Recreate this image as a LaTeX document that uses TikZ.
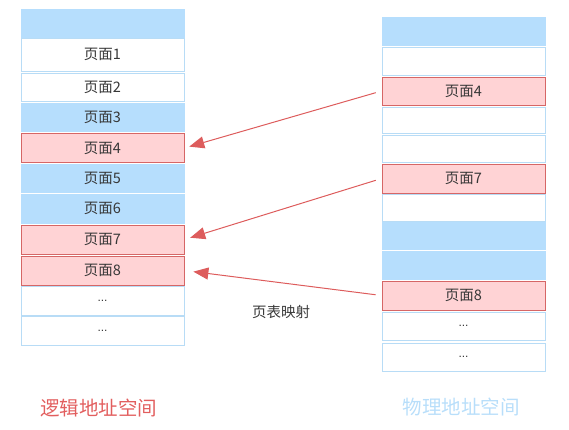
\documentclass[tikz,border=0pt]{standalone}
\usepackage{fontspec}
\setmainfont{Noto Sans CJK SC}
\newfontfamily\latinf{Liberation Sans}
\usetikzlibrary{arrows.meta}
\definecolor{bluefill}{RGB}{182,222,253}
\definecolor{blueline}{RGB}{184,220,246}
\definecolor{redfill}{RGB}{255,211,213}
\definecolor{redline}{RGB}{214,102,102}
\definecolor{arrowred}{RGB}{221,92,92}
\definecolor{txt}{RGB}{55,55,55}
\definecolor{titlered}{RGB}{226,94,94}
\definecolor{titleblue}{RGB}{184,222,250}
\tikzset{
  cell/.style={rectangle, inner sep=0pt, minimum width=163pt, line width=0.9pt,
    text=txt, font=\fontsize{14.5}{16}\selectfont},
  bluebox/.style={cell, draw=none, fill=bluefill, minimum width=164pt},
  whitebox/.style={cell, draw=blueline, fill=white},
  redbox/.style={cell, draw=redline, fill=redfill},
  arr/.style={draw=arrowred, line width=1pt, -{Triangle[length=15pt,width=12pt]}},
}
\begin{document}
\begin{tikzpicture}[x=1pt,y=-1pt]
\useasboundingbox (0,0) rectangle (569,429);
\foreach \n/\t/\b/\s/\l in {
  l0/9/37.5/bluebox/{},
  l1/38.5/71/whitebox/页面1,
  l2/73/101/whitebox/页面2,
  l3/102.5/132/bluebox/页面3,
  l4/133.5/162.5/redbox/页面4,
  l5/163.5/193/bluebox/页面5,
  l6/194/223.5/bluebox/页面6,
  l7/225/254/redbox/页面7,
  l8/256/285/redbox/页面8,
  l9/286.5/315/whitebox/{\latinf\fontsize{12}{14}\selectfont ...},
  l10/316.5/345/whitebox/{\latinf\fontsize{12}{14}\selectfont ...}}
  \node[\s, minimum height={\b-\t}] (\n) at (102.5,{(\t+\b)/2}) {\l};
\foreach \n/\t/\b/\s/\l in {
  r0/16.5/45.5/bluebox/{},
  r1/47/75/whitebox/{},
  r2/77/105/redbox/页面4,
  r3/107/133/whitebox/{},
  r4/135/162/whitebox/{},
  r5/164/193/redbox/页面7,
  r6/194.5/221/whitebox/{},
  r7/221.8/250/bluebox/{},
  r8/251/279.5/bluebox/{},
  r9/281/310/redbox/页面8,
  r10/312/340/whitebox/{\latinf\fontsize{12}{14}\selectfont ...},
  r11/343/371/whitebox/{\latinf\fontsize{12}{14}\selectfont ...}}
  \node[\s, minimum height={\b-\t}] (\n) at (463.5,{(\t+\b)/2}) {\l};
\draw[arr, shorten <=6pt, shorten >=5pt] (r2.west) -- (l4.east);
\draw[arr, shorten <=6pt, shorten >=6pt] (r5.west) -- (l7.east);
\draw[arr, shorten <=6pt, shorten >=9pt] (r9.west) -- (l8.east);
\node[text=txt, font=\fontsize{14.5}{16}\selectfont] (map) at (281,312) {页表映射};
\node[text=titlered, font=\fontsize{19.5}{22}\selectfont] (lt) at (98.5,408) {逻辑地址空间};
\node[text=titleblue, font=\fontsize{19.5}{22}\selectfont] (pt) at (461,407) {物理地址空间};
\end{tikzpicture}
\end{document}
